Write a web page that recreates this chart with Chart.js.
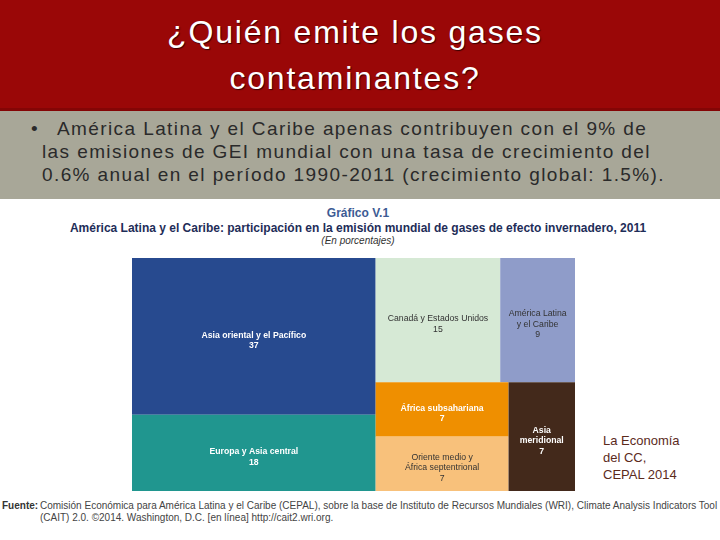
<!DOCTYPE html>
<html>
<head>
  <meta charset="utf-8">
  <title>¿Quién emite los gases contaminantes?</title>
  <script src="https://cdn.jsdelivr.net/npm/chart.js"></script>
  <style>
    body { margin: 0; width: 720px; height: 540px; position: relative; overflow: hidden; background: #fff; font-family: "Liberation Sans", Arial, sans-serif; }
    .header { position: absolute; left: 0; top: 0; width: 720px; height: 111px; background: #9a0707; border-bottom: 3px solid #840505; box-sizing: border-box; }
    .header h1 { margin: 0; position: absolute; left: 0; width: 710px; top: 9px; text-align: center; color: #fff; font-weight: normal; font-size: 32px; line-height: 46px; letter-spacing: 1.8px; text-shadow: 1px 1px 1px #3a0000; }
    .band { position: absolute; left: 0; top: 111px; width: 720px; height: 88px; background: #a8a798; }
    .band p { margin: 0; position: absolute; left: 42px; top: 6px; width: 678px; font-size: 19px; line-height: 23px; letter-spacing: 1.4px; color: #2a2a2a; white-space: nowrap; text-indent: 15px; }
    .band .dot { position: absolute; left: -26px; top: 0; }
    .ctitle { position: absolute; left: 0; width: 716px; text-align: center; }
    .t1 { top: 206px; font-size: 12px; font-weight: bold; color: #3d5b94; }
    .t2 { top: 221px; font-size: 12px; font-weight: bold; color: #1e2d58; }
    .t3 { top: 235px; font-size: 10px; font-style: italic; color: #333; }
    .box { position: absolute; left: 132px; top: 258px; width: 443px; height: 233px; }
    .source { position: absolute; left: 2px; top: 500px; font-size: 10px; line-height: 12px; color: #444; }
    .source b { position: absolute; left: 0; top: 0; color: #333; }
    .source span { display: block; margin-left: 38px; width: 690px; }
    .side { position: absolute; left: 603px; top: 432px; font-size: 13px; line-height: 17px; color: #5b2a1c; }
  </style>
</head>
<body>
  <div class="header"><h1>¿Quién emite los gases<br>contaminantes?</h1></div>
  <div class="band"><p><span class="dot">•</span>América Latina y el Caribe apenas contribuyen con el 9% de<br>las emisiones de GEI mundial con una tasa de crecimiento del<br>0.6% anual en el período 1990-2011 (crecimiento global: 1.5%).</p></div>

  <div class="ctitle t1">Gráfico V.1</div>
  <div class="ctitle t2">América Latina y el Caribe: participación en la emisión mundial de gases de efecto invernadero, 2011</div>
  <div class="ctitle t3">(En porcentajes)</div>

  <div class="box"><canvas id="treemap"></canvas></div>

  <div class="source"><b>Fuente:</b><span>Comisión Económica para América Latina y el Caribe (CEPAL), sobre la base de Instituto de Recursos Mundiales (WRI), Climate Analysis Indicators Tool (CAIT) 2.0. ©2014. Washington, D.C. [en línea] http://cait2.wri.org.</span></div>
  <div class="side">La Economía<br>del CC,<br>CEPAL 2014</div>

  <script>
    // datos del gráfico (porcentajes)
    const regions = [
      ['Asia oriental y el Pacífico'],
      ['Europa y Asia central'],
      ['Canadá y Estados Unidos'],
      ['América Latina', 'y el Caribe'],
      ['África subsahariana'],
      ['Oriente medio y', 'África septentrional'],
      ['Asia', 'meridional']
    ];
    const shares = [37, 18, 15, 9, 7, 7, 7];
    const colors = ['#274a8f', '#20968f', '#d6e9d5', '#8f9cc9', '#ef8f00', '#f8c17b', '#43291b'];
    const textColors = ['#fff', '#fff', '#333', '#333', '#fff', '#333', '#fff'];

    // cómo se parte el rectángulo: 'h' = lado a lado, 'v' = arriba/abajo
    const split = ['h', ['v', 0, 1], ['v', ['h', 2, 3], ['h', ['v', 4, 5], 6]]];

    function total(node) {
      if (typeof node === 'number') return shares[node];
      return total(node[1]) + total(node[2]);
    }

    // rectángulos en unidades de datos (0..100 en cada eje)
    function layout(node, x0, y0, x1, y1, out) {
      if (typeof node === 'number') { out[node] = { x0, y0, x1, y1 }; return out; }
      const f = total(node[1]) / total(node);
      if (node[0] === 'h') {
        const xm = x0 + (x1 - x0) * f;
        layout(node[1], x0, y0, xm, y1, out);
        layout(node[2], xm, y0, x1, y1, out);
      } else {
        const ym = y0 + (y1 - y0) * f;
        layout(node[1], x0, y0, x1, ym, out);
        layout(node[2], x0, ym, x1, y1, out);
      }
      return out;
    }

    const cells = layout(split, 0, 0, 100, 100, []);

    const treemapPlugin = {
      id: 'treemap',
      beforeDatasetsDraw(chart) {
        const { ctx, scales: { x, y } } = chart;
        ctx.save();
        cells.forEach((c, i) => {
          const left = x.getPixelForValue(c.x0), right = x.getPixelForValue(c.x1);
          const top = y.getPixelForValue(c.y0), bottom = y.getPixelForValue(c.y1);
          ctx.fillStyle = colors[i];
          ctx.fillRect(left, top, right - left, bottom - top);

          const lines = regions[i].concat(String(shares[i]));
          const lh = 10.5;
          const cx = (left + right) / 2;
          let cy = (top + bottom) / 2 + 4 - (lines.length - 1) * lh / 2;
          ctx.fillStyle = textColors[i];
          ctx.font = (textColors[i] === '#fff' ? 'bold ' : '') + '8.7px "Liberation Sans", Arial';
          ctx.textAlign = 'center';
          ctx.textBaseline = 'middle';
          lines.forEach(l => { ctx.fillText(l, cx, cy); cy += lh; });
        });
        ctx.restore();
      }
    };

    new Chart(document.getElementById('treemap'), {
      type: 'scatter',
      data: { datasets: [{ data: [] }] },
      options: {
        responsive: true,
        maintainAspectRatio: false,
        animation: false,
        layout: { padding: 0 },
        plugins: { legend: { display: false }, tooltip: { enabled: false } },
        scales: {
          x: { type: 'linear', min: 0, max: 100, display: false },
          y: { type: 'linear', min: 0, max: 100, reverse: true, display: false }
        }
      },
      plugins: [treemapPlugin]
    });
  </script>
</body>
</html>
